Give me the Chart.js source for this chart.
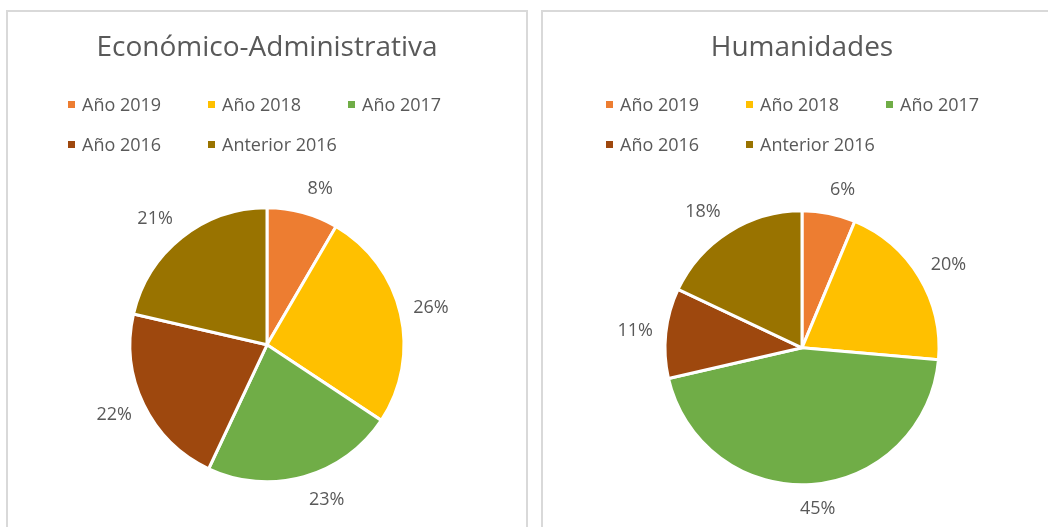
<!DOCTYPE html>
<html>
<head>
<meta charset="utf-8">
<script src="https://cdn.jsdelivr.net/npm/chart.js"></script>
<style>
  body { margin: 0; background: #fff; width: 1048px; height: 527px; overflow: hidden; position: relative; font-family: 'Open Sans', sans-serif; }
  .panel { position: absolute; top: 10px; height: 540px; border: 2px solid #d9d9d9; box-sizing: border-box; }
  #panelOne { left: 6px; width: 522px; }
  #panelTwo { left: 541px; width: 522px; }
  .panel canvas { position: absolute; left: 0; top: 0; }
  .legend { position: absolute; top: 72px; display: grid; grid-template-columns: repeat(3, 140px); grid-auto-rows: 40px; }
  .legend-item { display: flex; align-items: center; font-size: 18px; color: #595959; white-space: nowrap; }
  .legend-box { width: 7px; height: 7px; margin-right: 7px; display: inline-block; }
</style>
</head>
<body>
<div class="panel" id="panelOne">
  <canvas id="chartOne" width="518" height="515"></canvas>
  <div class="legend" id="legendOne" style="left:60px"></div>
</div>
<div class="panel" id="panelTwo">
  <canvas id="chartTwo" width="518" height="515"></canvas>
  <div class="legend" id="legendTwo" style="left:63px"></div>
</div>
<script>
const categories = ['Año 2019', 'Año 2018', 'Año 2017', 'Año 2016', 'Anterior 2016'];
const economicoValues = [8.4, 25.9, 22.7, 21.6, 21.4];
const humanidadesValues = [6.3, 20.1, 45.0, 10.6, 18.0];

const sliceColors = ['#ED7D31', '#FFC000', '#70AD47', '#9E480E', '#997300'];
const textColor = '#595959';
const fontFamily = "'Open Sans', sans-serif";

// percentage labels outside each slice, like excel "outside end"
const outsideLabels = {
  id: 'outsideLabels',
  afterDatasetsDraw(chart) {
    const ctx = chart.ctx;
    const values = chart.data.datasets[0].data;
    const total = values.reduce((a, b) => a + b, 0);
    ctx.save();
    ctx.font = '18px ' + fontFamily;
    ctx.fillStyle = textColor;
    ctx.textAlign = 'center';
    ctx.textBaseline = 'middle';
    chart.getDatasetMeta(0).data.forEach((arc, i) => {
      const p = arc.getProps(['x', 'y', 'startAngle', 'endAngle', 'outerRadius'], true);
      const mid = (p.startAngle + p.endAngle) / 2;
      const dx = Math.cos(mid);
      const dy = Math.sin(mid);
      const text = Math.round(values[i] / total * 100) + '%';
      const hw = ctx.measureText(text).width / 2 + 2;
      const anchor = p.outerRadius + 11;
      // label box sits beside the anchor point, side depends on direction
      const side = Math.max(-1, Math.min(1, dx * 4));
      const x = p.x + dx * anchor + side * hw;
      const y = p.y + dy * anchor + dy * 13;
      ctx.fillText(text, x, y);
    });
    ctx.restore();
  }
};

function makePie(canvasId, legendId, title, values, titleGap) {
  const chart = new Chart(document.getElementById(canvasId), {
    type: 'pie',
    data: {
      labels: categories,
      datasets: [{
        data: values,
        backgroundColor: sliceColors,
        borderColor: '#ffffff',
        borderWidth: 3
      }]
    },
    options: {
      responsive: false,
      animation: false,
      radius: 137,
      layout: { padding: 0 },
      plugins: {
        legend: { display: false },
        tooltip: { enabled: false },
        title: {
          display: true,
          text: title,
          color: textColor,
          font: { family: fontFamily, size: 28, weight: 'normal', lineHeight: 1.2 },
          padding: { top: 19, bottom: titleGap }
        }
      }
    },
    plugins: [outsideLabels]
  });

  // html legend in three columns, built from the chart's own legend items
  const items = chart.options.plugins.legend.labels.generateLabels(chart);
  const box = document.getElementById(legendId);
  items.forEach((item) => {
    const el = document.createElement('div');
    el.className = 'legend-item';
    const sq = document.createElement('span');
    sq.className = 'legend-box';
    sq.style.background = item.fillStyle;
    el.appendChild(sq);
    el.appendChild(document.createTextNode(item.text));
    box.appendChild(el);
  });
  return chart;
}

makePie('chartOne', 'legendOne', 'Económico-Administrativa', economicoValues, 98);
makePie('chartTwo', 'legendTwo', 'Humanidades', humanidadesValues, 104);
</script>
</body>
</html>
